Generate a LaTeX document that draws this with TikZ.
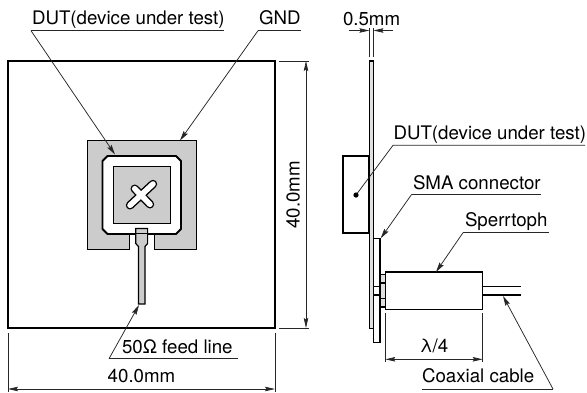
\documentclass[tikz,border=0pt]{standalone}
\usepackage{fontspec}
\setmainfont{TeX Gyre Heros}
\usetikzlibrary{arrows.meta}
\definecolor{pcb}{gray}{0.8}
\tikzset{
  x=1pt,y=-1pt,
  lbl/.style={inner sep=0pt,outer sep=0pt,anchor=base west,font=\fontsize{18.7}{20}\selectfont},
  lblc/.style={lbl,anchor=base},
  thin line/.style={line width=0.75pt,draw=black!85},
  leader/.style={thin line,-{Stealth[length=10pt,width=5pt,inset=1.5pt]}},
  dimen/.style={thin line,{Stealth[length=10pt,width=4.5pt,inset=1.5pt]}-{Stealth[length=10pt,width=4.5pt,inset=1.5pt]}},
  arrow one/.style={thin line,-{Stealth[length=10pt,width=4.5pt,inset=1.5pt]}},
  heavy/.style={draw=black,line width=1.9pt},
  part/.style={draw=black,line width=1.2pt},
}
\begin{document}
\begin{tikzpicture}
\useasboundingbox (0,0) rectangle (587,392);
% front view
\node[draw=black,line width=1.2pt,minimum width=267pt,minimum height=267pt,inner sep=0pt,outer sep=0pt,anchor=north west] (board) at (8,61) {};
\draw[fill=pcb,draw=black,line width=1pt] (87.3,140.7) -- (196,140.7) -- (196,249) -- (154,249) -- (154,234) -- (129.3,234) -- (129.3,249) -- (87.3,249) -- cycle;
\draw[heavy,fill=white,line join=round] (107.5,156) -- (176,156) -- (181,161) -- (181,229) -- (176,234) -- (107.5,234) -- (102.5,229) -- (102.5,161) -- cycle;
\draw[fill=pcb,draw=black,line width=1pt] (113.3,166.7) rectangle (170,223.3);
% cross slot
\draw[line width=8.4pt,line cap=round,black] (130,205.3) -- (153,184) (134.7,188.7) -- (150,204.3);
\draw[line width=5.6pt,line cap=round,white] (130,205.3) -- (153,184) (134.7,188.7) -- (150,204.3);
% feed
\draw[fill=pcb,part] (135.8,228.5) -- (147.6,228.5) -- (147.6,243.5) -- (145,246.5) -- (145,304) -- (138.4,304) -- (138.4,246.5) -- (135.8,243.5) -- cycle;
\draw[black,line width=1.2pt] (135.8,233.5) -- (147.6,233.5);
\coordinate (feedend) at (139,305);
\coordinate (gndtip) at (180,140.5);
\coordinate (duttip) at (115,154.5);
% labels top left
\node[lbl] (dutA) at (32,24.3) {DUT(device under test)};
\node[lbl] (gndL) at (259,24.3) {GND};
\coordinate (dutAs) at (31,30.7); \coordinate (dutAe) at (224,30.7);
\coordinate (gndLs) at (258,30.7); \coordinate (gndLe) at (301,30.7);
\draw[thin line] (dutAe) -- (dutAs);
\draw[leader] (dutAs) -- (duttip);
\draw[thin line] (gndLe) -- (gndLs);
\draw[leader] (gndLs) -- (gndtip);
% 50 ohm
\node[lbl] (feedL) at (122,353) {50Ω feed line};
\coordinate (feedLs) at (109,358.7); \coordinate (feedLe) at (238,358.7);
\draw[thin line] (feedLe) -- (feedLs);
\draw[leader] (feedLs) -- (feedend);
% dim 40 bottom
\coordinate (hA) at (8,333); \coordinate (hA2) at (8,392);
\coordinate (hB) at (275,333); \coordinate (hB2) at (275,392);
\draw[thin line] (hA) -- (hA2) (hB) -- (hB2);
\coordinate (hL) at (8,389); \coordinate (hR) at (275,389);
\draw[dimen] (hL) -- (hR);
\node[lblc] (dimH) at (141.5,382.6) {40.0mm};
% dim 40 right
\coordinate (vA) at (279,61); \coordinate (vA2) at (309,61);
\coordinate (vB) at (279,328); \coordinate (vB2) at (309,328);
\draw[thin line] (vA) -- (vA2) (vB) -- (vB2);
\coordinate (vT) at (306,61); \coordinate (vD) at (306,328);
\draw[dimen] (vT) -- (vD);
\node[lblc,rotate=90] (dimV) at (299.5,195) {40.0mm};
% side view
\draw[fill=pcb!60,part] (369.3,61) rectangle (373.4,328.5);
\node[draw=black,line width=1.9pt,minimum width=26.5pt,minimum height=77pt,inner sep=0pt,outer sep=0pt,anchor=north west] (dutS) at (342.7,156) {};
\draw[fill=white,part] (373.4,238.7) rectangle (380,342.7);
\draw[fill=pcb!60,part] (380,274.5) rectangle (385.3,307);
\draw[black,line width=1.2pt] (380,283) -- (385.3,283) (380,298.5) -- (385.3,298.5);
\draw[black,line width=1.2pt] (373.4,286.7) -- (380,286.7) (373.4,295) -- (380,295);
\node[draw=black,line width=1.3pt,minimum width=97.4pt,minimum height=37.7pt,inner sep=0pt,outer sep=0pt,anchor=north west] (sperr) at (385.3,272) {};
\coordinate (coaxA) at (sperr.east |- 0,286.7); \coordinate (coaxAe) at (521,286.7);
\coordinate (coaxB) at (sperr.east |- 0,295); \coordinate (coaxBe) at (521,295);
\draw[black,line width=1.2pt] (coaxA) -- (coaxAe) (coaxB) -- (coaxBe);
% 0.5mm
\node[lbl] (halfL) at (343,25) {0.5mm};
\coordinate (eA) at (369.4,28); \coordinate (eA2) at (369.4,57);
\coordinate (eB) at (373.4,28); \coordinate (eB2) at (373.4,57);
\draw[thin line] (eA) -- (eA2) (eB) -- (eB2);
\coordinate (aL) at (349,30.5); \coordinate (aLe) at (369.4,30.5);
\coordinate (aR) at (393,30.5); \coordinate (aRe) at (373.4,30.5);
\draw[arrow one] (aL) -- (aLe);
\draw[arrow one] (aR) -- (aRe);
% DUT side label
\node[lbl] (dutB) at (393.5,139.3) {DUT(device under test)};
\coordinate (dutBs) at (393,145.3); \coordinate (dutBe) at (585,145.3);
\coordinate (dot) at (356,195);
\draw[thin line] (dutBe) -- (dutBs) -- (dot);
\fill[black] (dot) circle (2.6pt);
% SMA
\node[lbl] (smaL) at (413,189) {SMA connector};
\coordinate (smas) at (411.7,194.3); \coordinate (smae) at (541,194.3); \coordinate (smat) at (380.7,238.3);
\draw[thin line] (smae) -- (smas);
\draw[leader] (smas) -- (smat);
% Sperrtoph
\node[lbl] (spL) at (465,226.7) {Sperrtoph};
\coordinate (sps) at (463,232.7); \coordinate (spe) at (549,232.7); \coordinate (spt) at (436,272);
\draw[thin line] (spe) -- (sps);
\draw[leader] (sps) -- (spt);
% lambda/4
\coordinate (lA) at (385.3,313); \coordinate (lA2) at (385.3,362);
\coordinate (lB) at (482.7,313); \coordinate (lB2) at (482.7,362);
\draw[thin line] (lA) -- (lA2) (lB) -- (lB2);
\coordinate (lL) at (385.3,359.3); \coordinate (lR) at (482.7,359.3);
\draw[dimen] (lL) -- (lR);
\node[lblc] (lamL) at (434,352.7) {λ/4};
% coax label
\node[lbl] (coL) at (422,382.7) {Coaxial cable};
\coordinate (cos) at (553,389); \coordinate (coe) at (422,389); \coordinate (cot) at (503,296);
\draw[thin line] (coe) -- (cos);
\draw[leader] (cos) -- (cot);
\end{tikzpicture}
\end{document}
